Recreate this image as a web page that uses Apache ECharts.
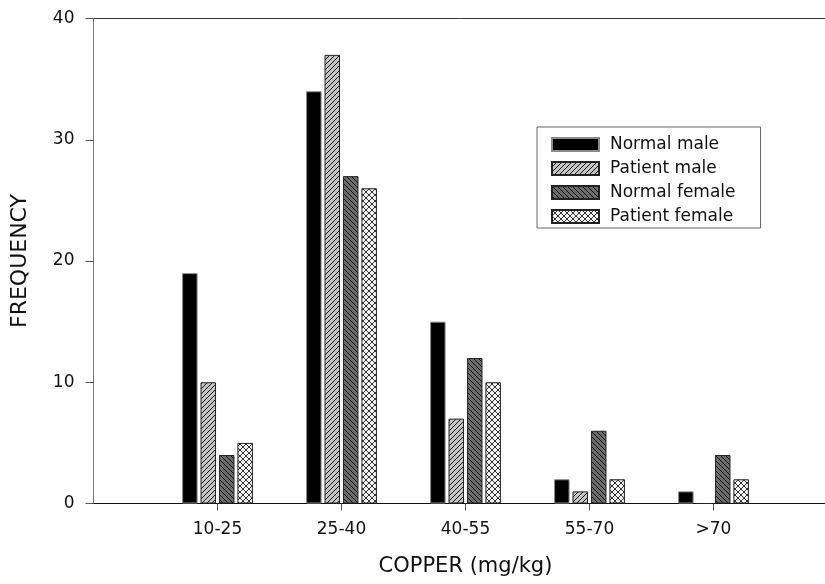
<!DOCTYPE html>
<html><head><meta charset="utf-8">
<script src="https://cdn.jsdelivr.net/npm/echarts@6/dist/echarts.min.js"></script>
<style>html,body{margin:0;padding:0;background:#fff}#c{width:825px;height:584px}</style>
</head><body><div id="c"></div>
<script>
// ---- data ----
const categories = ['10-25', '25-40', '40-55', '55-70', '>70'];
const seriesNames = ['Normal male', 'Patient male', 'Normal female', 'Patient female'];
const normalMale = [19, 34, 15, 2, 1];
const patientMale = [10, 37, 7, 1, 0];
const normalFemale = [4, 27, 12, 6, 4];
const patientFemale = [5, 26, 10, 2, 2];
const yMin = 0, yMax = 40, yStep = 10;
const xTitle = 'COPPER (mg/kg)';
const yTitle = 'FREQUENCY';

// ---- patterns ----
function pattern(size, bg, fg, fwd, back) {
  const c = document.createElement('canvas');
  c.width = size; c.height = size;
  const g = c.getContext('2d');
  g.fillStyle = bg; g.fillRect(0, 0, size, size);
  g.fillStyle = fg;
  for (let i = 0; i < size; i++) {
    if (fwd) g.fillRect(i, size - 1 - i, 1, 1);
    if (back) g.fillRect(i, i, 1, 1);
  }
  return { image: c, repeat: 'repeat' };
}
const styles = [
  { color: '#000', borderColor: '#8a8a8a', borderWidth: 1 },
  { color: pattern(5, '#c4c4c4', '#1a1a1a', true, false), borderColor: '#222', borderWidth: 1 },
  { color: pattern(5, '#6c6c6c', '#111', false, true), borderColor: '#222', borderWidth: 1 },
  { color: pattern(6, '#f2f2f2', '#333', true, true), borderColor: '#222', borderWidth: 1 }
];
const values = [normalMale, patientMale, normalFemale, patientFemale];

// axis slots: one empty slot at each end so categories sit at 1..5
const axisData = [''].concat(categories, ['']);
const pad = v => [null].concat(v, [null]);

const FONT = 'DejaVu Sans';
const chart = echarts.init(document.getElementById('c'), null, { renderer: 'canvas' });
chart.setOption({
  animation: false,
  backgroundColor: '#fff',
  textStyle: { fontFamily: FONT },
  grid: { left: 93.5, top: 18.5, width: 744, height: 485, outerBoundsMode: 'none', containLabel: false, show: true, borderColor: '#3a3a3a', borderWidth: 1, backgroundColor: 'transparent' },
  legend: {
    data: seriesNames,
    orient: 'vertical',
    left: 537, top: 127,
    padding: [9, 25, 3, 14],
    icon: 'rect',
    itemWidth: 47, itemHeight: 13, itemGap: 7,
    borderColor: '#666', borderWidth: 1,
    backgroundColor: '#fff',
    textStyle: { fontFamily: FONT, fontSize: 17, lineHeight: 17, color: '#111', padding: [0, 0, 0, 6] }
  },
  xAxis: {
    type: 'category',
    data: axisData,
    boundaryGap: false,
    name: xTitle,
    nameLocation: 'middle',
    nameGap: 53,
    nameTextStyle: { fontFamily: FONT, fontSize: 21, color: '#111' },
    axisLine: { lineStyle: { color: '#111', width: 1 } },
    axisTick: { show: true, length: 7, lineStyle: { color: '#555' }, interval: (i) => i > 0 && i < axisData.length - 1 },
    axisLabel: { margin: 18, fontFamily: FONT, fontSize: 17, color: '#111', interval: 0 },
    splitLine: { show: false }
  },
  yAxis: {
    type: 'value',
    min: yMin, max: yMax, interval: yStep,
    name: yTitle,
    nameLocation: 'middle',
    nameRotate: 90,
    nameGap: 62,
    nameTextStyle: { fontFamily: FONT, fontSize: 22, color: '#111' },
    axisLine: { show: true, lineStyle: { color: '#777', width: 1 } },
    axisTick: { show: true, length: 8, lineStyle: { color: '#555' } },
    axisLabel: { margin: 19, fontFamily: FONT, fontSize: 17, color: '#111' },
    splitLine: { show: false }
  },
  series: seriesNames.map((n, k) => ({
    name: n,
    type: 'bar',
    data: pad(values[k]),
    barWidth: 15.5,
    barGap: '19%',
    itemStyle: styles[k],
    emphasis: { disabled: true }
  }))
});
</script></body></html>
